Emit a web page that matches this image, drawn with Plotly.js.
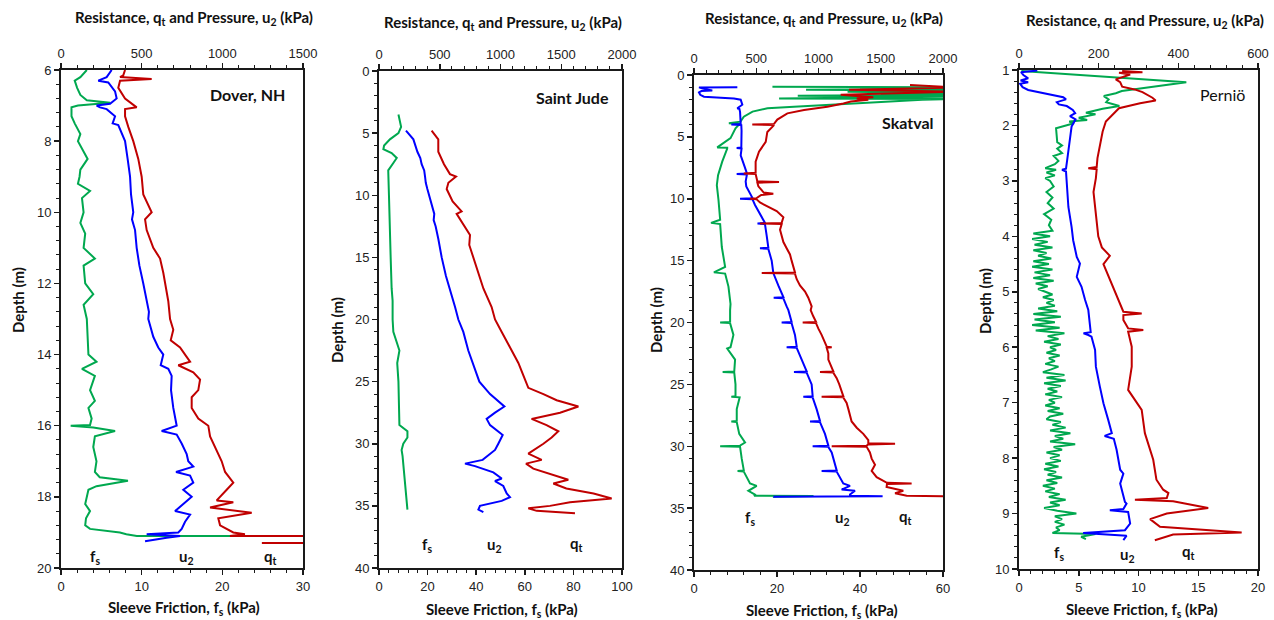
<!DOCTYPE html>
<html><head><meta charset="utf-8">
<script src="https://cdn.plot.ly/plotly-3.0.1.min.js"></script>
<style>html,body{margin:0;padding:0;background:#fff}#chart{width:1274px;height:620px}</style>
</head><body><div id="chart"></div>
<script>
// ---------- DATA ----------
// Panel 1: Dover, NH
const doverFsDepth = [6.0,6.2,6.3,6.5,6.7,6.85,6.92,7.0,7.05,7.3,7.5,7.8,8.0,8.2,8.5,8.8,9.0,9.2,9.4,9.6,10.0,10.3,10.6,11.0,11.3,11.5,12.0,12.3,12.6,13.0,13.5,14.0,14.2,14.4,14.6,15.0,15.3,15.5,15.8,15.98,16.0,16.05,16.15,16.3,16.6,17.0,17.3,17.45,17.55,17.7,17.8,18.0,18.2,18.4,18.6,18.8,18.9,19.0,19.05,19.1,19.1];
const doverFs      = [3.2,2.4,1.7,2.0,2.4,3.2,6.1,2.1,1.3,1.3,1.7,2.4,2.1,2.6,3.3,2.4,2.3,2.1,3.6,2.6,2.8,2.4,3.0,2.8,4.2,2.8,3.0,4.0,2.8,3.2,3.3,3.4,4.4,2.6,4.2,3.6,4.2,3.4,3.8,3.6,1.2,4.0,6.7,4.2,4.0,4.4,4.2,4.8,8.3,4.4,3.4,3.2,3.0,3.6,3.1,3.0,3.6,7.3,8.1,9.4,32];
const doverU2Depth = [6.0,6.2,6.3,6.35,6.6,6.8,6.95,7.0,7.05,7.1,7.3,7.5,7.55,8.0,8.5,9.0,9.5,10.0,10.2,10.5,11.0,11.5,12.0,12.5,12.8,13.0,13.5,13.8,14.0,14.3,14.4,14.6,15.0,15.5,16.0,16.15,16.25,16.5,16.8,17.0,17.15,17.3,17.4,17.6,17.8,18.0,18.2,18.4,18.5,18.7,18.9,19.0,19.05,19.1,19.15,19.25];
const doverU2      = [314,283,231,293,335,345,304,221,242,283,335,320,355,397,413,428,434,448,440,459,469,486,510,531,545,541,572,603,634,618,665,686,682,696,717,624,717,748,779,789,820,713,800,820,758,810,758,707,800,769,748,727,531,738,655,521];
const doverQtDepth = [6.0,6.15,6.2,6.25,6.3,6.5,6.8,6.95,7.05,7.1,7.3,7.6,8.0,8.5,9.0,9.5,9.8,10.0,10.2,10.5,11.0,11.3,11.7,12.0,12.5,13.0,13.3,13.6,13.8,14.0,14.2,14.3,14.5,14.7,15.0,15.2,15.5,15.8,16.0,16.3,16.6,17.0,17.3,17.6,17.8,18.1,18.15,18.3,18.45,18.6,18.8,19.0,19.05,19.1,19.1,19.3,19.3];
const doverQt      = [397,386,366,562,366,355,397,438,469,397,397,417,448,479,500,510,541,562,521,531,572,614,634,645,665,676,696,680,738,769,800,727,820,862,851,810,810,851,913,924,955,996,1017,1068,1027,965,1068,924,1182,975,986,1068,1140,1047,1600,1600,1245];

// Panel 2: Saint Jude
const judeFsDepth = [3.5,4.5,5.0,5.5,6.0,6.3,6.6,7.0,7.4,8.0,10,12,15,17.5,18.5,20,21,22.5,23.5,25,27,28.5,29,29.5,30,30.5,31,33,35.3];
const judeFs      = [8.0,9.1,8.0,4.5,2.1,1.8,5.2,7.3,5.9,3.8,4.1,4.5,4.8,5.2,5.6,5.6,5.9,8.4,7.5,8.0,8.2,8.4,11.7,11.7,10.0,9.3,9.7,10.7,11.7];
const judeU2Depth = [4.8,5.5,6.5,7.0,7.5,8.0,8.5,9.0,9.5,10.5,11.5,12.0,12.5,13.5,15,16.5,18,19,20,21,22.5,24,25,26,26.6,27,27.5,28,28.5,29.3,30,30.5,31.3,31.6,31.8,32.3,32.8,33,33.4,34,34.3,34.6,35,35.3,35.5];
const judeU2      = [222,283,316,340,351,372,379,385,398,425,455,450,466,488,516,551,598,626,653,694,735,790,826,914,982,1032,955,886,914,1018,982,955,853,708,790,941,1010,955,1023,1051,1078,1010,831,818,859];
const judeQtDepth = [4.8,5.5,6.5,7.5,8.3,8.5,9,9.5,10.5,11.3,11.5,12.5,13.2,14,15,16.5,17.5,19,20,21,22,23.5,24.5,25.5,26,26.5,27,27.5,28,28.5,29,29.5,30,30.8,31.3,31.6,32,32.5,32.9,33.2,33.6,34,34.4,34.7,35,35.2,35.4,35.6];
const judeQt      = [433,488,488,535,584,634,571,557,606,680,639,708,749,743,776,831,859,927,955,1010,1064,1147,1188,1229,1353,1462,1641,1490,1256,1379,1476,1421,1353,1229,1339,1210,1270,1435,1558,1435,1542,1766,1915,1572,1407,1229,1298,1613];

// Panel 3: Skatval
const skatFsDepth = [0.95,1.0,1.05,1.1,1.2,1.25,1.35,1.45,1.5,1.6,1.67,1.75,1.9,1.94,2.0,2.29,2.35,2.56,2.69,2.96,3.37,3.77,3.9,3.95,4.3,5.1,5.85,5.88,5.95,7.0,8.1,8.9,10.1,11.7,11.95,12.05,13.9,15.5,15.95,16.05,17.1,18.5,19,19.95,20,20.05,21,22,22.1,23,23.95,24,24.05,25,25.95,26,26.05,27,27.95,28,28.05,29,29.7,29.95,30,30.05,31,31.95,32,32.05,33,33.2,33.6,33.9,34.0,34.02,34.08];
const skatFs      = [18.9,62,40,62,27,62,37,62,45,62,25,62,20.5,62,55,37.7,34,24.1,17.7,14.1,12,11.2,8.4,11.0,10,8.8,5.6,8.0,8.0,6.8,5.8,5.5,5.9,6.3,4.1,6.3,6.7,7.5,4.8,7.5,8.3,8.8,8.7,8.7,6.3,8.7,9.5,8.8,8.0,9.9,9.7,6.9,9.7,10.0,10.0,9.0,11.0,10.3,10.3,9.0,10.3,10.9,12.3,11.1,6.3,11.1,11.5,12.0,10.5,12.0,13.5,15.1,13.1,14.7,14.5,28.8,19];
const skatU2Depth = [0.98,1.0,1.1,1.25,1.3,1.4,1.6,1.75,1.85,1.9,2.0,2.4,2.69,2.75,3.0,3.77,3.95,4.0,4.05,4.5,5.4,5.85,5.9,5.95,6.5,7.0,7.5,7.95,8.0,8.05,8.6,9.0,9.8,9.95,10,10.05,10.5,11,11.95,12,12.05,13,13.95,14,14.05,15,16,17,17.95,18,18.05,18.7,19,19.95,20,20.05,21,21.95,22,22.05,23,23.95,24,24.05,25,25.95,26,26.05,27,27.95,28,28.05,29,29.95,30,30.05,30.5,31,31.95,32,32.05,33,33.2,33.5,33.6,33.9,34.0,34.04,34.08];
const skatU2      = [348,40,70,147,60,40,50,80,250,321,375,388,348,365,370,375,375,300,380,382,380,380,343,382,375,395,410,425,343,425,415,420,463,470,370,470,490,517,570,510,570,584,597,530,597,624,637,677,718,640,718,744,758,784,704,784,811,825,744,825,865,905,803,905,945,953,878,953,985,1012,932,1012,1052,1079,953,1079,1106,1119,1146,1025,1146,1199,1253,1186,1293,1253,1253,1515,637];
const skatQtDepth = [0.8,0.85,1.0,1.1,1.2,1.35,1.5,1.6,1.8,1.9,2.0,2.15,2.3,2.56,2.83,3.1,3.6,3.95,4.0,4.05,4.6,5.4,6.2,7.0,7.8,7.9,7.95,8.0,8.6,8.65,8.7,9.0,9.5,9.6,9.7,9.95,10,10.05,10.3,10.7,11,11.5,11.95,12,12.05,12.5,13,13.5,14,14.5,15,15.5,15.95,16,16.05,16.5,17,17.5,18,18.7,19,19.5,19.95,20,20.05,20.5,21,21.95,22,22.05,22.5,23,23.95,24,24.05,24.5,25,25.95,26,26.05,26.5,27,28,28.5,29,29.5,29.75,29.8,29.85,29.95,30,30.05,30.5,31,31.5,32,32.5,32.95,33,33.05,33.3,33.6,33.8,34.0,34.05];
const skatQt      = [1735,1896,2100,1740,1245,2100,1500,1178,1440,1307,1400,1260,1200,1071,884,750,669,643,468,643,589,576,522,495,495,495,400,495,509,683,509,517,560,637,540,503,450,503,530,610,664,718,704,530,704,691,704,718,744,771,784,798,811,544,811,825,851,892,918,945,937,958,980,873,980,999,1025,1066,1106,1066,1079,1079,1119,1012,1119,1146,1167,1199,1025,1199,1226,1240,1266,1307,1360,1400,1400,1615,1400,1387,1106,1387,1413,1427,1454,1427,1467,1550,1748,1550,1547,1681,1615,1708,2100];

// Panel 4: Pernio
const perFsDepth = [1.02,1.04,1.22,1.38,1.42,1.47,1.53,1.58,1.65,1.7,1.77,1.8,1.86,1.9,1.93,1.96,2.05,2.3,2.36,2.42,2.5,2.55,2.64,2.7,2.77,2.8,2.85,2.9,2.95,3.0,3.1,3.2,3.3,3.4,3.5,3.6,3.7,3.8,3.9,3.95,4.0,4.05,4.1,4.15,4.2,4.25,4.3,4.35,4.4,4.45,4.5,4.55,4.6,4.65,4.7,4.75,4.8,4.85,4.9,4.95,5.0,5.05,5.1,5.15,5.2,5.25,5.3,5.35,5.4,5.45,5.5,5.55,5.6,5.65,5.7,5.75,5.8,5.85,5.9,5.95,6.0,6.05,6.1,6.15,6.2,6.25,6.3,6.35,6.4,6.45,6.5,6.55,6.6,6.65,6.7,6.75,6.8,6.85,6.9,6.95,7.0,7.05,7.1,7.15,7.2,7.25,7.3,7.35,7.4,7.45,7.5,7.55,7.6,7.65,7.7,7.75,7.8,7.85,7.9,7.95,8.0,8.05,8.1,8.15,8.2,8.25,8.3,8.35,8.4,8.45,8.5,8.55,8.6,8.65,8.7,8.75,8.8,8.85,8.9,8.95,9.0,9.05,9.1,9.15,9.2,9.25,9.3,9.35,9.37,9.42,9.46];
const perFs      = [0.2,1.5,14.0,8.6,8.1,7.1,7.5,7.3,8.4,7.0,5.6,6.4,5.0,5.7,4.2,4.6,3.1,3.2,3.6,3.2,3.6,2.9,3.3,3.0,2.2,3.1,2.3,3.0,2.2,2.6,2.9,2.3,2.8,2.4,2.9,2.1,2.7,2.5,2.8,1.2,2.6,1.1,2.4,1.3,2.8,1.2,2.3,1.6,2.7,1.2,2.5,1.1,2.8,1.3,2.6,1.2,2.9,1.4,2.4,1.6,2.2,2.8,2.0,2.9,2.3,3.0,1.6,3.2,1.2,3.5,1.3,3.0,1.1,3.4,1.4,3.8,2.4,3.3,2.1,3.5,2.6,3.1,2.3,3.4,2.5,3.0,2.2,3.3,2.7,2.0,3.8,2.3,3.9,2.1,3.5,2.4,3.2,2.2,3.6,2.5,3.0,2.2,3.4,2.4,3.7,2.6,2.3,3.5,2.8,3.9,2.6,4.3,3.0,3.7,2.6,4.7,2.9,3.6,2.3,3.4,2.6,3.5,2.2,3.3,2.1,3.1,2.4,3.6,2.3,3.2,2.0,3.0,2.2,3.4,2.5,3.9,2.6,3.4,2.1,3.2,4.8,3.0,3.6,3.0,3.8,3.1,3.4,2.8,6.4,5.2,5.6];
const perU2Depth = [1.01,1.04,1.09,1.15,1.19,1.22,1.25,1.31,1.36,1.40,1.44,1.49,1.53,1.58,1.62,1.65,1.72,1.78,1.83,1.89,2.02,2.26,2.49,2.62,2.78,2.8,2.83,3.1,3.47,3.83,4.07,4.37,4.49,4.73,4.91,5.15,5.33,5.73,5.75,5.78,5.81,6.05,6.35,6.71,7.01,7.31,7.55,7.6,7.65,7.85,8.21,8.28,8.46,8.79,8.82,8.92,8.94,8.97,9.18,9.3,9.35,9.4,9.48];
const perU2      = [46,5,11,23,4,23,3,9,23,49,75,111,118,95,100,120,135,141,128,142,132,128,125,121,118,108,118,120,124,132,136,145,153,145,157,166,174,180,162,174,182,191,193,203,212,224,233,215,238,245,254,262,254,266,270,262,228,274,279,266,161,270,262];
const perQtDepth = [1.02,1.04,1.05,1.08,1.17,1.22,1.3,1.35,1.4,1.5,1.55,1.6,1.69,1.8,1.93,2.11,2.35,2.59,2.75,2.77,2.79,2.95,3.2,3.5,3.8,4.0,4.2,4.35,4.5,4.7,5.0,5.3,5.36,5.39,5.42,5.51,5.66,5.69,5.72,5.99,6.35,6.77,7.13,7.55,7.85,8.03,8.39,8.57,8.63,8.72,8.75,8.78,8.9,9.0,9.1,9.24,9.34,9.38,9.48];
const perQt      = [259,310,251,279,243,254,259,290,310,335,343,304,251,237,218,210,203,197,195,174,195,193,187,191,195,199,208,228,212,224,241,258,262,308,262,262,274,312,274,283,283,274,308,316,329,337,345,362,375,371,291,387,475,371,329,354,559,387,341];

const siteNames = ['Dover, NH','Saint Jude','Skatval','Perniö'];
const topRanges = [[0,1500],[0,2000],[0,2000],[0,600]];
const botRanges = [[0,30],[0,100],[0,60],[0,20]];
const depthRanges = [[20,6],[40,0],[40,0],[10,1]];

// ---------- LAYOUT CONFIG ----------
const W = 1274, H = 620;
const frames = [ {l:61,r:303,t:70,b:568}, {l:379,r:622,t:71,b:568}, {l:694,r:943,t:75,b:570}, {l:1019,r:1258,t:70,b:569} ];
const tickCfg = [
  {top:[500,100], bot:[10,2], y:[2,0.4]},
  {top:[500,100], bot:[20,4], y:[5,1]},
  {top:[500,100], bot:[20,4], y:[5,1]},
  {top:[200,40],  bot:[5,1],  y:[1,0.2]}
];
const GREEN = '#00a84f', BLUE = '#0000ff', RED = '#c00000', AX = '#1a1a1a';
const tickFont = {family:'Liberation Sans, Arial, sans-serif', size:13, color:'#222'};
const labFont = {family:'Lato, Open Sans, sans-serif', size:15, color:'#111'};

const series = [
  [doverFsDepth,doverFs,doverU2Depth,doverU2,doverQtDepth,doverQt],
  [judeFsDepth,judeFs,judeU2Depth,judeU2,judeQtDepth,judeQt],
  [skatFsDepth,skatFs,skatU2Depth,skatU2,skatQtDepth,skatQt],
  [perFsDepth,perFs,perU2Depth,perU2,perQtDepth,perQt]
];

const px = x => x / W, py = y => 1 - y / H;
const layout = {width:W, height:H, margin:{l:0,r:0,t:0,b:0}, showlegend:false,
  paper_bgcolor:'#fff', plot_bgcolor:'#fff', annotations:[]};
const traces = [];

function axisCommon(range, cfg){
  return {range:range, showgrid:false, zeroline:false, showline:true, linecolor:AX, linewidth:2,
    ticks:'outside', ticklen:5, tickwidth:1.5, tickcolor:AX, dtick:cfg[0], tick0:0,
    minor:{dtick:cfg[1], ticks:'outside', ticklen:3, tickwidth:1, tickcolor:AX},
    tickfont:tickFont, fixedrange:true};
}

const labelPos = [
  {fs:[95,557], u2:[186,557], qt:[270,557], site:[247,95], top:[194,18], bot:[184,608], dep:[18,300]},
  {fs:[427,545], u2:[494,545], qt:[576,544], site:[572,97], top:[503,23], bot:[502,610], dep:[337,330]},
  {fs:[750,518], u2:[843,518], qt:[905,517], site:[908,123], top:[824,19], bot:[822,611], dep:[656,320]},
  {fs:[1059,553], u2:[1127,555], qt:[1188,552], site:[1222,94], top:[1145,21], bot:[1142,610], dep:[985,301]}
];

for (let i = 0; i < 4; i++) {
  const f = frames[i];
  const bx = 2*i+1, tx = 2*i+2, yi = i+1;
  const yName = yi === 1 ? 'yaxis' : 'yaxis'+yi;
  const yId = yi === 1 ? 'y' : 'y'+yi;
  const bId = bx === 1 ? 'x' : 'x'+bx;
  const dom = [px(f.l), px(f.r)];
  layout[bx === 1 ? 'xaxis' : 'xaxis'+bx] = Object.assign(axisCommon(botRanges[i], tickCfg[i].bot),
    {domain:dom, anchor:yId, side:'bottom'});
  layout['xaxis'+tx] = Object.assign(axisCommon(topRanges[i], tickCfg[i].top),
    {overlaying:bId, anchor:yId, side:'top'});
  layout[yName] = Object.assign(axisCommon(depthRanges[i], tickCfg[i].y),
    {domain:[py(f.b), py(f.t)], anchor:bId, mirror:true});
  const s = series[i];
  traces.push({x:s[1], y:s[0], xaxis:bId, yaxis:yId, mode:'lines', line:{color:GREEN,width:2}, hoverinfo:'skip'});
  traces.push({x:s[3], y:s[2], xaxis:'x'+tx, yaxis:yId, mode:'lines', line:{color:BLUE,width:2}, hoverinfo:'skip'});
  traces.push({x:s[5], y:s[4], xaxis:'x'+tx, yaxis:yId, mode:'lines', line:{color:RED,width:2}, hoverinfo:'skip'});

  const L = labelPos[i];
  const ann = (txt, p, extra) => layout.annotations.push(Object.assign({text:txt, xref:'paper', yref:'paper',
    x:px(p[0]), y:py(p[1]), xanchor:'center', yanchor:'middle', showarrow:false, font:labFont}, extra||{}));
  ann('<b>f<sub>s</sub></b>', L.fs);
  ann('<b>u<sub>2</sub></b>', L.u2);
  ann('<b>q<sub>t</sub></b>', L.qt);
  ann(i === 3 ? siteNames[i] : '<b>'+siteNames[i]+'</b>', L.site, {font:Object.assign({}, labFont, {size:16})});
  ann('<b>Resistance, q<sub>t</sub> and Pressure, u<sub>2</sub> (kPa)</b>', L.top);
  ann('<b>Sleeve Friction, f<sub>s</sub> (kPa)</b>', L.bot);
  ann('<b>Depth (m)</b>', L.dep, {textangle:-90});
}

Plotly.newPlot('chart', traces, layout, {displayModeBar:false, staticPlot:true});
</script>
</body></html>
